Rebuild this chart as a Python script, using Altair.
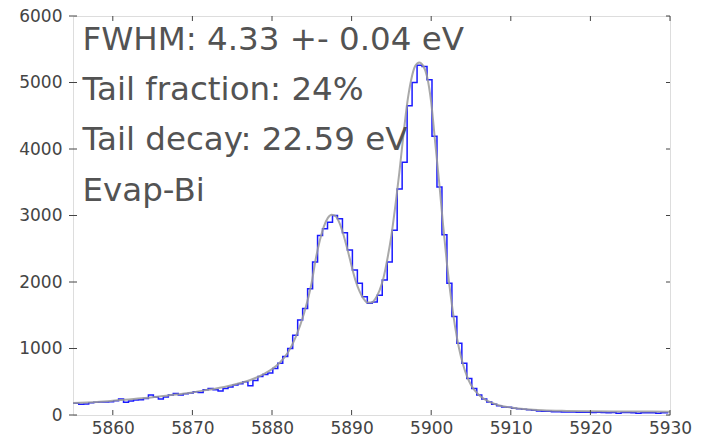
import altair as alt
import pandas as pd

# ---- data ----
bin_start = 5854.475
bin_width = 0.625
counts = [
    175, 175, 160, 165, 185, 190, 195, 195, 200, 215,
    240, 190, 210, 225, 230, 250, 300, 270, 240, 270,
    300, 325, 300, 320, 330, 350, 340, 380, 400, 380,
    360, 400, 420, 450, 470, 500, 440, 520, 580, 610,
    630, 700, 780, 880, 1000, 1200, 1430, 1600, 1900, 2300,
    2700, 2800, 2900, 3000, 2950, 2740, 2480, 2180, 1980, 1780,
    1680, 1700, 1800, 2030, 2300, 2780, 3400, 3800, 4650, 5000,
    5260, 5240, 5040, 4190, 3430, 2710, 1980, 1480, 1080, 780,
    550, 400, 300, 240, 195, 160, 140, 120, 115, 100,
    95, 85, 80, 70, 60, 55, 55, 50, 50, 45,
    45, 45, 40, 42, 40, 38, 40, 38, 35, 38,
    25, 38, 36, 35, 28, 35, 33, 35, 25, 35,
    35,
]

fit_energy = [5855, 5858, 5861, 5864, 5867, 5870, 5872, 5874, 5876, 5878,
              5879, 5880, 5881, 5882, 5883, 5884, 5885, 5885.5, 5886, 5886.5, 5887,
              5887.5, 5888, 5888.5, 5889, 5889.5, 5890, 5890.5, 5891, 5891.5, 5892,
              5892.5, 5893, 5893.5, 5894, 5894.5, 5895, 5895.5, 5896, 5896.5, 5897,
              5897.5, 5898, 5898.5, 5899, 5899.5, 5900, 5900.5, 5901, 5901.5, 5902,
              5902.5, 5903, 5903.5, 5904, 5904.5, 5905, 5906, 5907, 5908, 5909,
              5910, 5912, 5914, 5917, 5920, 5925, 5930]
fit_counts = [180, 195, 225, 255, 295, 340, 380, 420, 480, 560,
              620, 690, 790, 940, 1180, 1520, 2000, 2350, 2620, 2830, 2960,
              3010, 2990, 2880, 2700, 2480, 2240, 2020, 1860, 1750, 1690,
              1690, 1750, 1870, 2060, 2350, 2700, 3150, 3650, 4200, 4700,
              5050, 5250, 5300, 5250, 5080, 4700, 4100, 3500, 2850, 2250,
              1750, 1330, 1000, 760, 580, 450, 300, 215, 165, 132,
              112, 86, 72, 62, 56, 52, 50]

x_ticks = [5860, 5870, 5880, 5890, 5900, 5910, 5920, 5930]
y_ticks = [0, 1000, 2000, 3000, 4000, 5000, 6000]
x_domain = [5855, 5930]
y_domain = [0, 6000]

annotations = ["FWHM: 4.33 +- 0.04 eV", "Tail fraction: 24%", "Tail decay: 22.59 eV", "Evap-Bi"]

# ---- layout ----
W, H = 597, 399
PAD = {"left": 73, "top": 16, "right": 38, "bottom": 24}
text_baselines = [34, 84, 134, 185]

hist_df = pd.DataFrame({
    "energy": [bin_start + bin_width * (i + 0.5) for i in range(len(counts))],
    "counts": counts,
})
fit_df = pd.DataFrame({"energy": fit_energy, "counts": fit_counts})
xt_df = pd.DataFrame({"t": x_ticks})
yt_df = pd.DataFrame({"t": y_ticks})

xs = alt.Scale(domain=x_domain, nice=False, zero=False)
ys = alt.Scale(domain=y_domain, nice=False)

x_axis = alt.Axis(values=x_ticks, title=None, grid=False, ticks=False, domain=False,
                  labelFont="DejaVu Sans", labelFontSize=17, labelColor="#444444",
                  labelPadding=5, format="d", labelFlush=False)
y_axis = alt.Axis(values=y_ticks, title=None, grid=False, ticks=False, domain=False,
                  labelFont="DejaVu Sans", labelFontSize=17, labelColor="#444444",
                  labelPadding=11, format="d", labelFlush=False)

hist = alt.Chart(hist_df).mark_line(
    interpolate="step", color="#1a1aff", strokeWidth=1.5, clip=True
).encode(
    x=alt.X("energy:Q", scale=xs, axis=x_axis),
    y=alt.Y("counts:Q", scale=ys, axis=y_axis),
)

fit = alt.Chart(fit_df).mark_line(
    interpolate="monotone", color="#9a9a9a", strokeWidth=2, opacity=0.85, clip=True
).encode(
    x=alt.X("energy:Q", scale=xs),
    y=alt.Y("counts:Q", scale=ys),
)

tick_style = dict(color="#444444", strokeWidth=1)
yl = alt.Chart(yt_df).mark_rule(**tick_style).encode(
    y=alt.Y("t:Q", scale=ys), x=alt.value(-4), x2=alt.value(4))
yr = alt.Chart(yt_df).mark_rule(**tick_style).encode(
    y=alt.Y("t:Q", scale=ys), x=alt.value(W - 4), x2=alt.value(W))
xb = alt.Chart(xt_df).mark_rule(**tick_style).encode(
    x=alt.X("t:Q", scale=xs), y=alt.value(H), y2=alt.value(H - 5))
xtop = alt.Chart(xt_df).mark_rule(**tick_style).encode(
    x=alt.X("t:Q", scale=xs), y=alt.value(0), y2=alt.value(5))

texts = []
for label, yb in zip(annotations, text_baselines):
    texts.append(
        alt.Chart(pd.DataFrame({"label": [label]})).mark_text(
            align="left", baseline="alphabetic", font="DejaVu Sans", fontSize=32.5,
            color="#535353"
        ).encode(x=alt.value(9.5), y=alt.value(yb), text="label:N")
    )

chart = alt.layer(hist, fit, yl, yr, xb, xtop, *texts).properties(
    width=W, height=H,
    autosize=alt.AutoSizeParams(type="none"),
    padding=PAD,
).configure_view(
    stroke="#444444", strokeWidth=2
).configure(background="white")

chart.save("out.html", embed_options={"renderer": "svg", "actions": False})
